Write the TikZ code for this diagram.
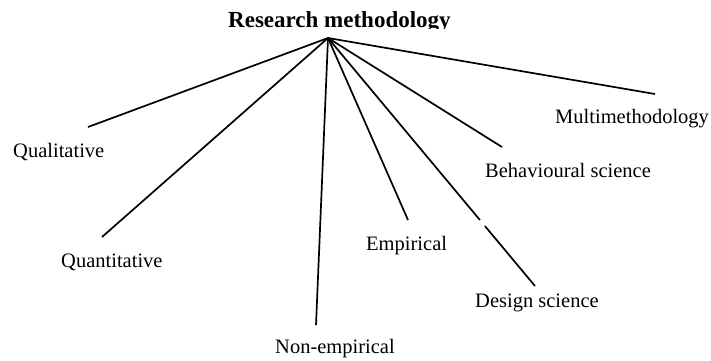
\documentclass[tikz,border=0pt]{standalone}
\usepackage{fontspec}
\setmainfont{Liberation Serif}
\usetikzlibrary{calc}
\begin{document}
\begin{tikzpicture}[x=1pt,y=-1pt,
  branch/.style={line width=1.7pt, black},
  leaf/.style={anchor=base west, inner sep=0pt, font=\fontsize{20.5}{24}\selectfont},
  heading/.style={anchor=base west, inner sep=0pt, font=\fontsize{23}{27}\selectfont\bfseries}]
  \useasboundingbox (0,0) rectangle (711,360);

  % title, trimmed just below its baseline
  \begin{scope}
    \clip (0,0) rectangle (711,28);
    \node[heading] (title) at (228,27) {Research methodology};
  \end{scope}

  % branching point and branch ends
  \coordinate (hub) at (328,38);
  \coordinate (qlE) at (88,127);
  \coordinate (qnE) at (102,237);
  \coordinate (neE) at (316,325);
  \coordinate (emE) at (408,220);
  \coordinate (dsE) at (535,286);
  \coordinate (bsE) at (502,147);
  \coordinate (mmE) at (655,94);

  % labels
  \node[leaf] (ql) at (13,157) {Qualitative};
  \node[leaf] (qn) at (61,267) {Quantitative};
  \node[leaf] (ne) at (275,353) {Non-empirical};
  \node[leaf] (em) at (366,250) {Empirical};
  \node[leaf] (ds) at (475,307) {Design science};
  \node[leaf] (bs) at (485,177) {Behavioural science};
  \node[leaf] (mm) at (555,123) {Multimethodology};

  % branches
  \draw[branch] (hub) -- (qlE);
  \draw[branch] (hub) -- (qnE);
  \draw[branch] (hub) -- (neE);
  \draw[branch] (hub) -- (emE);
  \draw[branch] (hub) -- ($(hub)!0.734!(dsE)$);
  \draw[branch] ($(hub)!0.758!(dsE)$) -- (dsE);
  \draw[branch] (hub) -- (bsE);
  \draw[branch] (hub) -- (mmE);
\end{tikzpicture}
\end{document}
